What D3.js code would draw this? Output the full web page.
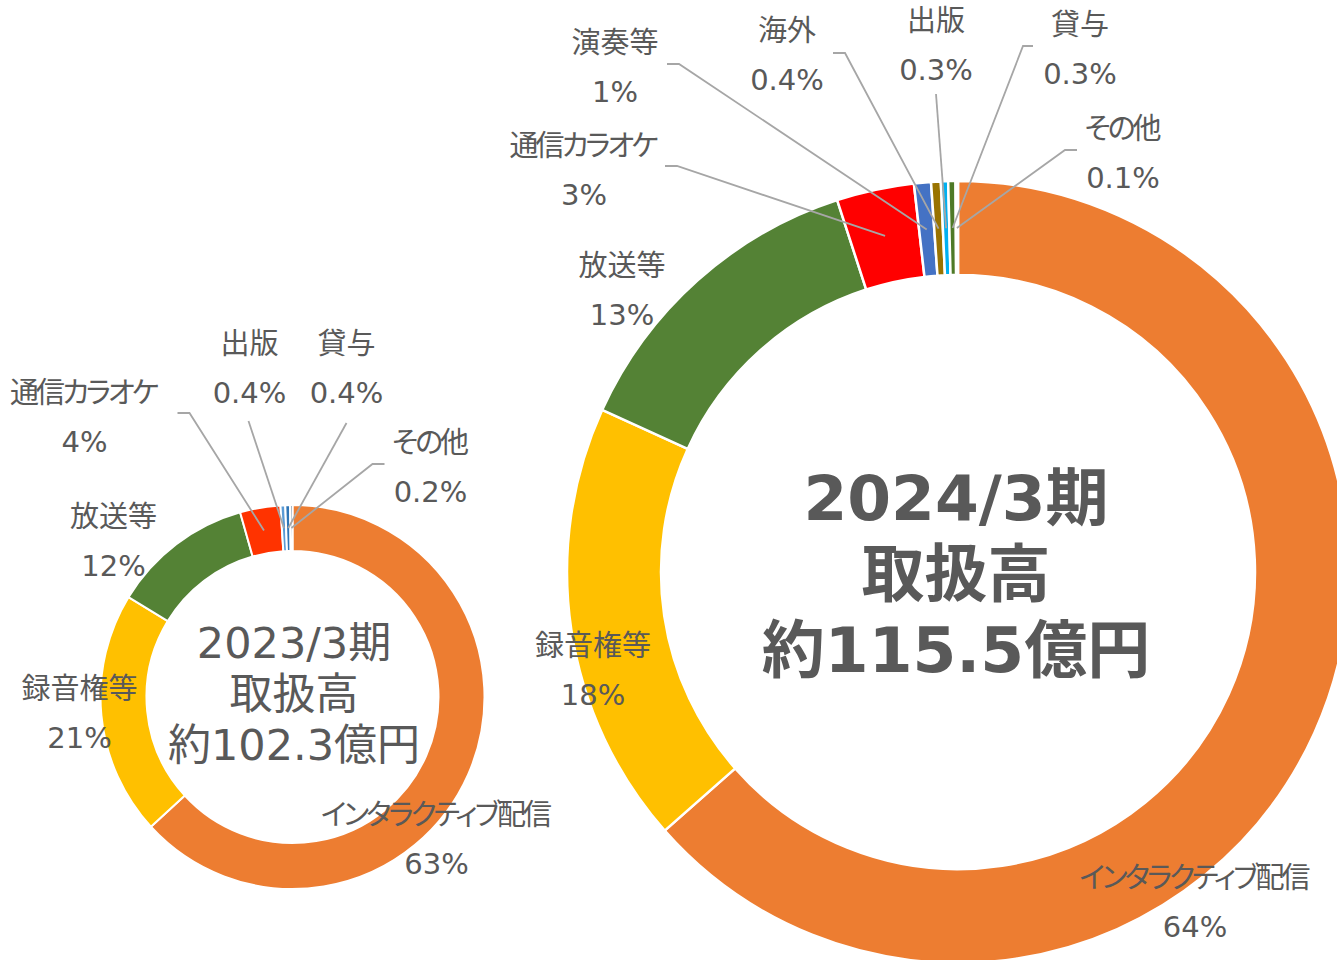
<!DOCTYPE html>
<html>
<head>
<meta charset="utf-8">
<script src="https://cdn.jsdelivr.net/npm/d3@7"></script>
<style>
  html, body { margin: 0; padding: 0; background: #ffffff; }
  svg { display: block; }
  text { font-family: "DejaVu Sans", "Noto Sans CJK JP", sans-serif; font-feature-settings: "palt" 1; fill: #595959; }
</style>
</head>
<body>
<svg id="chart" width="1337" height="960"></svg>
<script>
// ---------- DATA ----------
const cats2023 = ["インタラクティブ配信", "録音権等", "放送等", "通信カラオケ", "出版", "貸与", "その他"];
const vals2023 = [63.2, 20.5, 11.9, 3.4, 0.4, 0.4, 0.2];
const pct2023  = ["63%", "21%", "12%", "4%", "0.4%", "0.4%", "0.2%"];
const title2023 = ["2023/3期", "取扱高", "約102.3億円"];

const cats2024 = ["インタラクティブ配信", "録音権等", "放送等", "通信カラオケ", "演奏等", "海外", "出版", "貸与", "その他"];
const vals2024 = [63.5, 18.3, 13.2, 3.2, 0.7, 0.4, 0.3, 0.3, 0.1];
const pct2024  = ["64%", "18%", "13%", "3%", "1%", "0.4%", "0.3%", "0.3%", "0.1%"];
const title2024 = ["2024/3期", "取扱高", "約115.5億円"];

// ---------- STYLES / LAYOUT ----------
const colors2023 = ["#ED7D31", "#FFC000", "#548235", "#FF3300", "#5B9BD5", "#2E75B6", "#1F4E79"];
const colors2024 = ["#ED7D31", "#FFC000", "#548235", "#FF0000", "#4472C4", "#997300", "#00B0F0", "#4E7A27", "#70AD47"];

// label layout relative to donut centre
const layout2023 = [
  {dx: 144, dy: 117},
  {dx: -213, dy: -9},
  {dx: -179, dy: -181},
  {dx: -208, dy: -305, start: [-115, -284], elbow: [-103, -284]},
  {dx: -43, dy: -354, start: [-44, -276]},
  {dx: 54, dy: -354, start: [54, -274]},
  {dx: 138, dy: -255, start: [92, -233], elbow: [80, -233]}
];
const layout2024 = [
  {dx: 237, dy: 305},
  {dx: -365, dy: 73},
  {dx: -336, dy: -307},
  {dx: -374, dy: -427, start: [-293, -406], elbow: [-281, -406]},
  {dx: -343, dy: -530, start: [-291, -508], elbow: [-279, -508]},
  {dx: -171, dy: -542, start: [-125, -519], elbow: [-113, -519]},
  {dx: -22, dy: -552, start: [-22, -478]},
  {dx: 122, dy: -548, start: [75, -526], elbow: [65, -526]},
  {dx: 165, dy: -444, start: [119, -422], elbow: [107, -422]}
];

const kanaRe = /[\u3040-\u30FF]/;
const svg = d3.select("#chart");

function donut(cfg) {
  const g = svg.append("g").attr("transform", `translate(${cfg.cx},${cfg.cy})`);
  const data = cfg.cats.map((c, i) => ({cat: c, value: cfg.vals[i], pct: cfg.pcts[i], color: cfg.colors[i], lay: cfg.layout[i]}));
  const pie = d3.pie().sort(null).value(d => d.value).startAngle(0).endAngle(2 * Math.PI);
  const arcs = pie(data);
  const arc = d3.arc().innerRadius(cfg.r).outerRadius(cfg.R);

  g.selectAll("path.slice").data(arcs).join("path")
    .attr("class", "slice")
    .attr("d", arc)
    .attr("fill", d => d.data.color)
    .attr("stroke", "#ffffff")
    .attr("stroke-width", cfg.stroke)
    .attr("stroke-linejoin", "round");

  const line = d3.line();
  g.selectAll("path.leader").data(arcs.filter(d => d.data.lay.start)).join("path")
    .attr("class", "leader")
    .attr("d", d => {
      const pts = [d.data.lay.start];
      if (d.data.lay.elbow) pts.push(d.data.lay.elbow);
      pts.push(arc.centroid(d));
      return line(pts);
    })
    .attr("fill", "none")
    .attr("stroke", "#A6A6A6")
    .attr("stroke-width", 1.8);

  const lbl = g.selectAll("g.lbl").data(arcs).join("g").attr("class", "lbl");
  lbl.append("text")
    .attr("x", d => d.data.lay.dx + (kanaRe.test(d.data.cat) ? -1.5 : 0))
    .attr("y", d => d.data.lay.dy + 11)
    .attr("text-anchor", "middle")
    .attr("font-size", 29)
    .attr("letter-spacing", d => kanaRe.test(d.data.cat) ? -3 : 0)
    .text(d => d.data.cat);
  lbl.append("text")
    .attr("x", d => d.data.lay.dx)
    .attr("y", d => d.data.lay.dy + 48.5 + 11)
    .attr("text-anchor", "middle")
    .attr("font-size", 29)
    .text(d => d.data.pct);

  g.selectAll("text.title").data(cfg.title).join("text")
    .attr("class", "title")
    .attr("x", cfg.tx)
    .attr("y", (d, i) => cfg.ty + i * cfg.tstep)
    .attr("text-anchor", "middle")
    .attr("font-size", cfg.tsize)
    .attr("font-weight", cfg.tweight)
    .text(d => d);
}

donut({cx: 292.5, cy: 697, R: 192, r: 146, stroke: 2,
  cats: cats2023, vals: vals2023, pcts: pct2023, colors: colors2023, layout: layout2023,
  title: title2023, tx: 1.5, ty: -39, tstep: 51, tsize: 43, tweight: "normal"});

donut({cx: 958, cy: 572, R: 391, r: 297, stroke: 2.5,
  cats: cats2024, vals: vals2024, pcts: pct2024, colors: colors2024, layout: layout2024,
  title: title2024, tx: -2, ty: -52, tstep: 76, tsize: 63, tweight: "bold"});
</script>
</body>
</html>
